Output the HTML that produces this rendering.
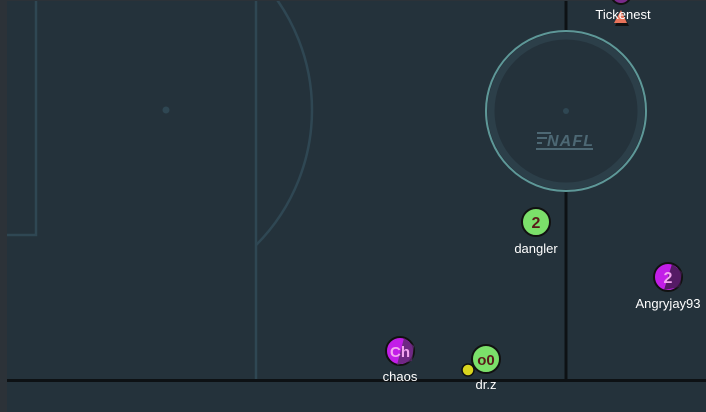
<!DOCTYPE html>
<html><head><meta charset="utf-8"><style>
html,body{margin:0;padding:0;background:#2c3238;}
svg{display:block;font-family:"Liberation Sans",sans-serif;}
</style></head><body>
<svg width="706" height="412" viewBox="0 0 706 412">
<defs><clipPath id="rc"><rect x="256" y="1" width="450" height="411"/></clipPath></defs>
<rect x="7" y="1" width="699" height="411" fill="#24323b"/>
<g stroke="#2f4753" stroke-width="2.5" fill="none">
<path d="M36 1 V235 H7"/>
<line x1="256" y1="1" x2="256" y2="380"/>
<circle cx="121" cy="110" r="191" clip-path="url(#rc)"/>
</g>
<circle cx="166" cy="110" r="3.5" fill="#2f4753"/>
<line x1="566" y1="1" x2="566" y2="380" stroke="#0d1114" stroke-width="3"/>
<g>
<circle cx="566" cy="111" r="80" fill="#24323b" stroke="#5e9898" stroke-width="2"/>
<circle cx="566" cy="111" r="75" fill="none" stroke="#2c3f49" stroke-width="7"/>
<circle cx="566" cy="111" r="3" fill="#2f4753"/>
<g fill="#4d6874">
<rect x="537" y="132" width="14" height="2"/><rect x="537" y="137" width="10" height="2"/><rect x="537" y="142" width="5" height="2"/>
<text x="547" y="146" font-size="16" font-weight="bold" font-style="italic" fill="#4d6874" textLength="46">NAFL</text>
<rect x="536" y="148" width="57" height="2"/>
</g>
</g>
<line x1="7" y1="380.5" x2="706" y2="380.5" stroke="#0d1114" stroke-width="3"/>
<g>
<circle cx="621" cy="-6" r="10" fill="#7a2a8a" stroke="#111" stroke-width="2"/>
<polygon points="622,12 615,26 629,26" fill="#111"/>
<polygon points="621,10 614,23 627,23" fill="#e8735a"/>
<text x="623" y="19" font-size="13" fill="#fff" text-anchor="middle">Tickenest</text>
</g>
<g>
<circle cx="536" cy="222" r="14" fill="#7be06a" stroke="#111" stroke-width="2"/>
<text x="536" y="228" font-size="16" font-weight="bold" fill="#5a1a1a" text-anchor="middle">2</text>
<text x="536" y="253" font-size="13" fill="#fff" text-anchor="middle">dangler</text>
</g>
<g>
<circle cx="668" cy="277" r="14" fill="#c21ee8" stroke="#111" stroke-width="2"/>
<path d="M672 264 L682 272 L680 287 L664 290 Z" fill="#3a1a44" opacity="0.8"/>
<text x="668" y="283" font-size="16" font-weight="bold" fill="#f3a6f0" text-anchor="middle">2</text>
<text x="668" y="308" font-size="13" fill="#fff" text-anchor="middle">Angryjay93</text>
</g>
<g>
<circle cx="400" cy="351" r="14" fill="#c21ee8" stroke="#111" stroke-width="2"/>
<path d="M404 338 L414 346 L412 361 L397 365 Z" fill="#5a2a6a" opacity="0.8"/>
<text x="400" y="357" font-size="15" font-weight="bold" fill="#f3a6f0" text-anchor="middle">Ch</text>
<text x="400" y="381" font-size="13" fill="#fff" text-anchor="middle">chaos</text>
</g>
<g>
<circle cx="486" cy="359" r="14" fill="#7be06a" stroke="#111" stroke-width="2"/>
<text x="486" y="365" font-size="15" font-weight="bold" fill="#5a1a1a" text-anchor="middle">o0</text>
<circle cx="468" cy="370" r="6" fill="#d9d51e" stroke="#111" stroke-width="1.5"/>
<text x="486" y="389" font-size="13" fill="#fff" text-anchor="middle">dr.z</text>
</g>
</svg>
</body></html>
